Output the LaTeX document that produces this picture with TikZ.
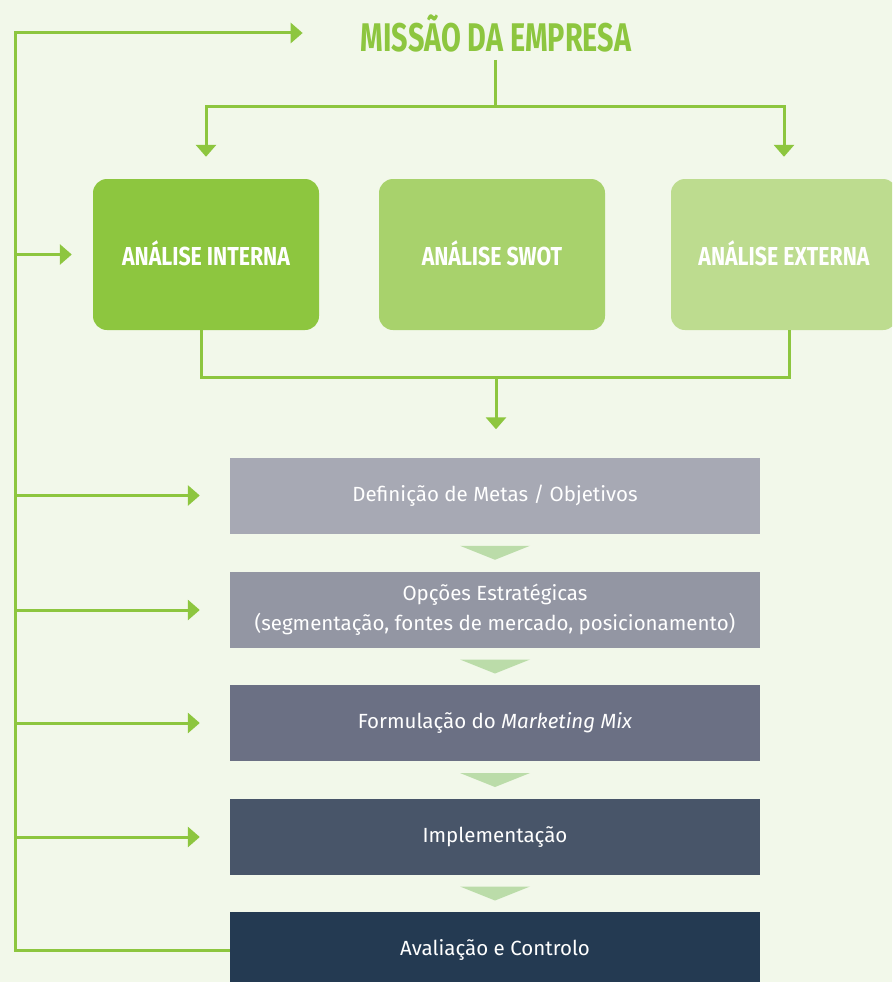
\documentclass[tikz,border=0pt]{standalone}
\usepackage{fontspec}
\usetikzlibrary{arrows.meta,calc}
\newfontfamily\headfont[FakeStretch=0.72]{Fira Sans}
\newfontfamily\boxfont[FakeStretch=0.82]{Fira Sans}
\newfontfamily\bodyfont{Fira Sans}
\definecolor{bg}{HTML}{F2F8EA}
\definecolor{lgreen}{HTML}{8DC63F}
\definecolor{cInt}{HTML}{8DC63F}
\definecolor{cSwot}{HTML}{A8D26C}
\definecolor{cExt}{HTML}{BDDC8F}
\definecolor{cA}{HTML}{A7A9B4}
\definecolor{cB}{HTML}{9396A3}
\definecolor{cC}{HTML}{6B7084}
\definecolor{cD}{HTML}{485569}
\definecolor{cE}{HTML}{243A52}
\definecolor{tri}{HTML}{BBDCA9}
\tikzset{
  conn/.style={draw=lgreen, line width=3pt},
  arr/.style={conn, -{Triangle[length=12pt,width=20pt]}},
  topbox/.style={rounded corners=14pt, minimum width=226pt, minimum height=151pt,
    text=white, font=\boxfont\bfseries\fontsize{26}{30}\selectfont, inner sep=0pt},
  stage/.style={minimum width=530pt, minimum height=76pt, inner sep=0pt,
    text=white, font=\bodyfont\fontsize{20.5}{30}\selectfont, align=center},
  tristyle/.style={fill=tri, draw=none}
}
\begin{document}
\begin{tikzpicture}[x=1pt,y=-1pt]
\useasboundingbox (0,0) rectangle (892,982);
\clip (0,0) rectangle (892,982);
\fill[bg] (0,0) rectangle (892,982);

\node[text=lgreen, font=\headfont\bfseries\fontsize{40}{44}\selectfont, inner sep=0pt] (title) at (496,33) {MISSÃO DA EMPRESA};

\node[topbox, fill=cInt] (ai) at (206,254.5) {\raisebox{3pt}{ANÁLISE INTERNA}};
\node[topbox, fill=cSwot] (sw) at (492,254.5) {\raisebox{3pt}{ANÁLISE SWOT}};
\node[topbox, fill=cExt] (ae) at (784,254.5) {\raisebox{3pt}{ANÁLISE EXTERNA}};

\node[stage, fill=cA] (b1) at (495,495.5) {Definição de Metas / Objetivos};
\node[stage, fill=cB] (b2) at (495,610) {Opções Estratégicas\\(segmentação, fontes de mercado, posicionamento)};
\node[stage, fill=cC] (b3) at (495,723) {Formulação do \textit{Marketing Mix}};
\node[stage, fill=cD] (b4) at (495,837) {Implementação};
\node[stage, fill=cE] (b5) at (495,950) {Avaliação e Controlo};

% triangles between stages
\foreach \a/\b in {b1/b2,b2/b3,b3/b4,b4/b5}{
  \coordinate (m) at ($(\a.south)!0.5!(\b.north)$);
  \fill[tristyle] ($(m)+(-35,-7)$) -- ($(m)+(35,-7)$) -- ($(m)+(0,7)$) -- cycle;
}

% mission to analyses
\coordinate (split) at (495,106);
\draw[conn] (495,60) -- (split);
\draw[arr, shorten >=22pt] (split) -| (ai.north);
\draw[arr, shorten >=22pt] (split) -| (ae.north);

% analyses to goals
\coordinate (join) at (496,377);
\draw[conn] (ai.south -| 201,0) |- (join) -| (ae.south -| 789,0);
\draw[arr, shorten >=28pt] (join) -- (join |- b1.north);

% feedback spine
\coordinate (spine) at (15,0);
\draw[arr, shorten >=58pt] (b5.west) -| (spine |- title) -- (title.west);
\draw[arr, shorten >=21pt] (spine |- ai) -- (ai.west);
\draw[arr, shorten >=30pt] (spine |- b1) -- (b1.west);
\draw[arr, shorten >=30pt] (spine |- b2) -- (b2.west);
\draw[arr, shorten >=30pt] (spine |- b3) -- (b3.west);
\draw[arr, shorten >=30pt] (spine |- b4) -- (b4.west);
\end{tikzpicture}
\end{document}
